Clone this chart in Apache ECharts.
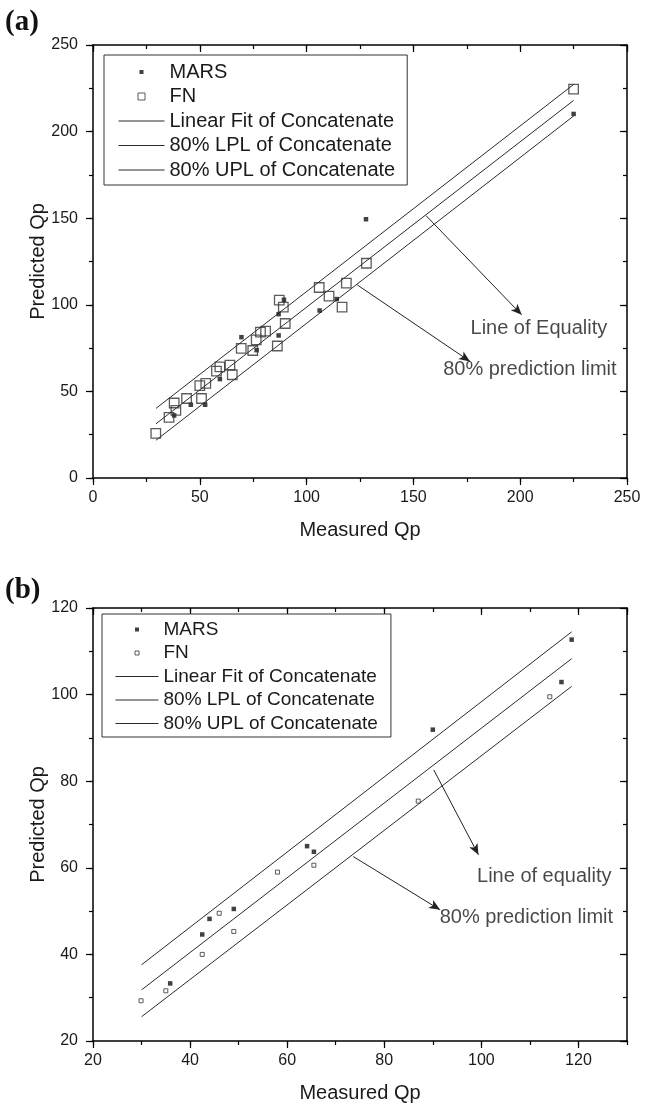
<!DOCTYPE html>
<html>
<head>
<meta charset="utf-8">
<script src="https://cdn.jsdelivr.net/npm/echarts@6/dist/echarts.min.js"></script>
<style>
  html, body { margin: 0; padding: 0; background: #fff; }
  #chart { width: 652px; height: 1105px; }
</style>
</head>
<body>
<div id="chart"></div>
<script>
// ---- Panel (a): measured vs predicted Qp, full data set ----
const ticksAx = [0, 50, 100, 150, 200, 250];
const ticksAy = [0, 50, 100, 150, 200, 250];
const marsA = [[38.0, 36.1], [45.8, 42.3], [52.5, 42.3], [59.4, 57.1], [69.5, 81.3], [76.6, 73.8],
  [86.9, 94.6], [86.9, 82.3], [89.4, 102.9], [106.1, 96.7], [114.1, 103.3], [127.8, 149.4], [225, 210.2]];
const fnA = [[29.4, 25.8], [35.6, 35.0], [38.0, 43.3], [38.8, 39.0], [43.8, 45.9], [50.0, 53.3],
  [50.8, 45.9], [52.8, 54.6], [57.8, 61.7], [59.4, 64.2], [64.1, 65.2], [65.2, 59.6], [69.4, 74.8],
  [74.8, 73.6], [76.4, 79.8], [78.4, 84.2], [80.8, 84.8], [86.3, 76.2], [87.2, 102.7], [89.1, 98.7],
  [90.0, 89.2], [105.9, 110.0], [110.5, 105.0], [116.6, 98.7], [118.6, 112.5], [128.0, 124.0], [225, 224.5]];
const fitA = [[29.5, 31.3], [225, 218]];
const lplA = [[29.5, 21.8], [225, 209]];
const uplA = [[29.5, 40.2], [225, 227.2]];

// ---- Panel (b): measured vs predicted Qp, test set ----
const ticksBx = [20, 40, 60, 80, 100, 120];
const xMaxB = 130;
const ticksBy = [20, 40, 60, 80, 100, 120];
const marsB = [[35.9, 33.3], [42.5, 44.6], [44.0, 48.2], [49.0, 50.5], [64.1, 65.0], [65.5, 63.7],
  [90.0, 91.9], [116.5, 102.9], [118.6, 112.7]];
const fnB = [[29.9, 29.3], [35.0, 31.6], [42.5, 40.0], [46.0, 49.5], [49.0, 45.3], [58.0, 59.0],
  [65.5, 60.6], [87.0, 75.4], [114.1, 99.5]];
const fitB = [[30, 31.8], [118.6, 108.3]];
const lplB = [[30, 25.6], [118.6, 101.9]];
const uplB = [[30, 37.6], [118.6, 114.5]];

const legendNames = ['MARS', 'FN', 'Linear Fit of Concatenate', '80% LPL of Concatenate', '80% UPL of Concatenate'];

// Callouts, anchored in data units of each panel
const notesA = [
  { text: 'Line of Equality', from: [155.9, 151.5], to: [200.7, 94.2], at: [176.5, 86.5] },
  { text: '80% prediction limit', from: [123.7, 111.5], to: [176.5, 67.3], at: [163.7, 62.5] }
];
const notesB = [
  { text: 'Line of equality', from: [90.2, 82.6], to: [99.4, 63.0], at: [99.0, 58.0] },
  { text: '80% prediction limit', from: [73.6, 62.6], to: [91.5, 50.3], at: [91.3, 48.5] }
];

const FONT = "'Liberation Sans', Arial, Helvetica, sans-serif";
const SERIF = "'Liberation Serif', 'Times New Roman', serif";
const INK = '#1a1a1a';
const LINE = '#2b2b2b';
const FRAME = { color: '#000', width: 1.5 };
const TICK = { color: '#000', width: 1.2 };

// Four axes per side of the frame: major (long ticks, labels) and minor (short ticks)
function xAxesFor(g, ticks, max, hideMax) {
  const min = ticks[0], step = ticks[1] - ticks[0];
  const base = { gridIndex: g, type: 'value', min: min, max: max, splitLine: { show: false }, silent: true };
  return [
    Object.assign({}, base, {
      position: 'bottom', interval: step,
      axisLine: { show: true, onZero: false, lineStyle: FRAME },
      axisTick: { show: true, inside: false, length: 7, lineStyle: TICK },
      axisLabel: { show: true, fontSize: 16, color: INK, fontFamily: FONT, margin: 12, showMaxLabel: !hideMax },
      name: 'Measured Qp', nameLocation: 'middle', nameGap: 42, nameMoveOverlap: false,
      nameTextStyle: { fontSize: 20, color: INK, fontFamily: FONT }
    }),
    Object.assign({}, base, {
      position: 'bottom', interval: step / 2,
      axisLine: { show: false, onZero: false },
      axisTick: { show: true, inside: false, length: 4, lineStyle: TICK },
      axisLabel: { show: false }
    }),
    Object.assign({}, base, {
      position: 'top', interval: step,
      axisLine: { show: true, onZero: false, lineStyle: FRAME },
      axisTick: { show: true, inside: true, length: 7, lineStyle: TICK },
      axisLabel: { show: false }
    }),
    Object.assign({}, base, {
      position: 'top', interval: step / 2,
      axisLine: { show: false, onZero: false },
      axisTick: { show: true, inside: true, length: 4, lineStyle: TICK },
      axisLabel: { show: false }
    })
  ];
}

function yAxesFor(g, ticks) {
  const min = ticks[0], max = ticks[ticks.length - 1], step = ticks[1] - ticks[0];
  const base = { gridIndex: g, type: 'value', min: min, max: max, splitLine: { show: false }, silent: true };
  return [
    Object.assign({}, base, {
      position: 'left', interval: step,
      axisLine: { show: true, onZero: false, lineStyle: FRAME },
      axisTick: { show: true, inside: false, length: 7, lineStyle: TICK },
      axisLabel: { show: true, fontSize: 16, color: INK, fontFamily: FONT, margin: 15 },
      name: 'Predicted Qp', nameLocation: 'middle', nameGap: 45, nameMoveOverlap: false,
      nameTextStyle: { fontSize: 20, color: INK, fontFamily: FONT }
    }),
    Object.assign({}, base, {
      position: 'left', interval: step / 2,
      axisLine: { show: false, onZero: false },
      axisTick: { show: true, inside: false, length: 4, lineStyle: TICK },
      axisLabel: { show: false }
    }),
    Object.assign({}, base, {
      position: 'right', interval: step,
      axisLine: { show: true, onZero: false, lineStyle: FRAME },
      axisTick: { show: true, inside: true, length: 7, lineStyle: TICK },
      axisLabel: { show: false }
    }),
    Object.assign({}, base, {
      position: 'right', interval: step / 2,
      axisLine: { show: false, onZero: false },
      axisTick: { show: true, inside: true, length: 4, lineStyle: TICK },
      axisLabel: { show: false }
    })
  ];
}

function panelSeries(g, mars, fn, fit, lpl, upl, notes, sz) {
  const ax = { xAxisIndex: g * 4, yAxisIndex: g * 4 };
  const lineBase = Object.assign({ type: 'line', symbol: 'none', silent: true, z: 2,
    itemStyle: { color: LINE }, lineStyle: { color: LINE, width: 1 } }, ax);
  return [
    Object.assign({}, lineBase, {
      name: legendNames[2], data: fit,
      markLine: {
        silent: true, symbol: ['none', 'arrow'], symbolSize: [7, 11],
        lineStyle: { type: 'solid', color: '#222', width: 1 },
        itemStyle: { color: '#222' },
        label: { show: false },
        data: notes.map(n => [{ coord: n.from }, { coord: n.to }])
      }
    }),
    Object.assign({}, lineBase, { name: legendNames[3], data: lpl }),
    Object.assign({}, lineBase, { name: legendNames[4], data: upl }),
    Object.assign({ type: 'scatter', name: 'MARS', data: mars, symbol: 'rect', symbolSize: sz.mars,
      itemStyle: { color: '#111' }, z: 3, silent: true }, ax),
    Object.assign({ type: 'scatter', name: 'FN', data: fn, symbol: 'rect', symbolSize: sz.fn,
      itemStyle: { color: 'rgba(255,255,255,0)', borderColor: '#333', borderWidth: sz.fnBorder }, z: 4, silent: true }, ax),
    Object.assign({ type: 'scatter', name: 'callouts', symbol: 'rect', symbolSize: 1, silent: true, z: 5,
      itemStyle: { color: 'rgba(0,0,0,0)' },
      data: notes.map(n => ({ value: n.at, name: n.text })),
      label: { show: true, position: 'right', distance: 0, formatter: '{b}', fontSize: 20, color: INK, fontFamily: FONT }
    }, ax)
  ];
}

// Legend: small square icons for the point series, plain strokes for the three lines
function legendFor(pos, fontSize, itemWidth, padding, fnIcon) {
  const plainLine = { color: 'rgba(0,0,0,0)', borderWidth: 0, opacity: 0 };
  return {
    orient: 'vertical', left: pos[0], top: pos[1], padding: padding,
    borderColor: '#333', borderWidth: 1, backgroundColor: '#fff',
    itemWidth: itemWidth, itemHeight: 10, itemGap: 4.5, symbolKeepAspect: true,
    selectedMode: false,
    textStyle: { fontSize: fontSize, lineHeight: fontSize, color: INK, fontFamily: FONT },
    data: [
      { name: 'MARS', icon: 'path://M0,0L0,0M10,10L10,10M3,3H7V7H3Z', itemStyle: { color: '#111', borderWidth: 0 } },
      { name: 'FN', icon: fnIcon, itemStyle: { color: 'rgba(255,255,255,0)', borderColor: '#333', borderWidth: 1 } },
      { name: legendNames[2], itemStyle: plainLine, lineStyle: { color: LINE, width: 1 } },
      { name: legendNames[3], itemStyle: plainLine, lineStyle: { color: LINE, width: 1 } },
      { name: legendNames[4], itemStyle: plainLine, lineStyle: { color: LINE, width: 1 } }
    ]
  };
}

const chart = echarts.init(document.getElementById('chart'), null, { renderer: 'canvas' });
chart.setOption({
  animation: false,
  backgroundColor: '#fff',
  textStyle: { fontFamily: FONT },
  title: [
    { text: '(a)', left: 5, top: 8, padding: 0, textStyle: { fontFamily: SERIF, fontWeight: 'bold', fontSize: 29, color: '#111' } },
    { text: '(b)', left: 5, top: 576, padding: 0, textStyle: { fontFamily: SERIF, fontWeight: 'bold', fontSize: 29, color: '#111' } }
  ],
  grid: [
    { left: 93, top: 45, width: 534, height: 433, outerBoundsMode: 'none', containLabel: false },
    { left: 93, top: 608, width: 534, height: 433, outerBoundsMode: 'none', containLabel: false }
  ],
  legend: [
    legendFor([104, 55], 20, 46, [7, 12, 5, 14], 'path://M0,0L0,0M10,10L10,10M1.5,1.5H8.5V8.5H1.5Z'),
    legendFor([102, 614], 19, 43, [6, 13, 4, 13], 'path://M0,0L0,0M10,10L10,10M3,3H7V7H3Z')
  ],
  xAxis: xAxesFor(0, ticksAx, ticksAx[ticksAx.length - 1], false).concat(xAxesFor(1, ticksBx, xMaxB, true)),
  yAxis: yAxesFor(0, ticksAy).concat(yAxesFor(1, ticksBy)),
  series: panelSeries(0, marsA, fnA, fitA, lplA, uplA, notesA, { mars: 4.5, fn: 9.5, fnBorder: 1.3 })
    .concat(panelSeries(1, marsB, fnB, fitB, lplB, uplB, notesB, { mars: 4.5, fn: 4, fnBorder: 1 }))
});
</script>
</body>
</html>
